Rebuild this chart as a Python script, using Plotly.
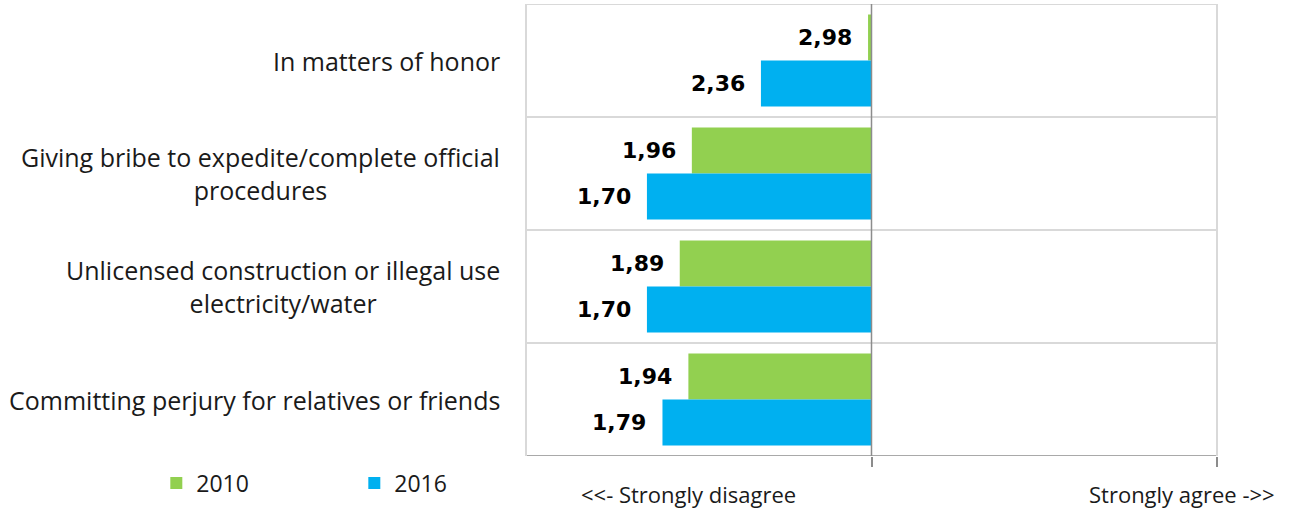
import plotly.graph_objects as go

# Survey items (top to bottom) and mean agreement scores on a 1-5 scale
categories = [
    "In matters of honor",
    "Giving bribe to expedite/complete official<br>procedures",
    "Unlicensed construction or illegal use<br>electricity/water",
    "Committing perjury for relatives or friends",
]
values_2010 = [2.98, 1.96, 1.89, 1.94]
values_2016 = [2.36, 1.70, 1.70, 1.79]
series_names = ["2010", "2016"]
series_colors = ["#92d050", "#00b0f0"]

# scale midpoint: bars run from the neutral point towards the score
midpoint = 3
scale_min, scale_max = 1, 5

FONT = "Open Sans"
BAR_GAP = 0.186
bar_w = (1 - BAR_GAP) / 2
idx = list(range(len(categories)))

fig = go.Figure()
for name, vals, col in zip(series_names, [values_2010, values_2016], series_colors):
    fig.add_trace(go.Bar(
        y=idx,
        x=[v - midpoint for v in vals],
        base=midpoint,
        orientation="h",
        name=name,
        marker=dict(color=col, line=dict(width=0)),
        hoverinfo="skip",
    ))

annotations = []
# value labels, just left of each bar's end
for k, vals in enumerate([values_2010, values_2016]):
    offset = (k - 0.5) * bar_w
    for i, v in enumerate(vals):
        annotations.append(dict(
            x=v, y=i + offset, xref="x", yref="y",
            text=f"{v:.2f}".replace(".", ","),
            showarrow=False, xanchor="right", yanchor="middle", xshift=-14,
            font=dict(family="DejaVu Sans", size=22, color="#000000", weight="bold"),
        ))

# category labels, right-aligned block with centred lines
for i, c in enumerate(categories):
    annotations.append(dict(
        x=0, y=i, xref="paper", yref="y", text=c, showarrow=False,
        xanchor="right", yanchor="middle", align="center", xshift=-24,
        font=dict(family=FONT, size=25, color="#1a1a1a"),
    ))

# scale end labels
annotations.append(dict(x=(1 + 3) / 2 - 0.06, y=-0.085, xref="x", yref="paper",
                        text="<<- Strongly disagree", showarrow=False,
                        xanchor="center", yanchor="middle",
                        font=dict(family=FONT, size=22, color="#1a1a1a")))
annotations.append(dict(x=scale_max - 0.205, y=-0.085, xref="x", yref="paper",
                        text="Strongly agree ->>", showarrow=False,
                        xanchor="center", yanchor="middle",
                        font=dict(family=FONT, size=22, color="#1a1a1a")))

shapes = []
grid_col = "#d9d9d9"
# horizontal separators between categories (including top and bottom)
for b in [-0.5 + j for j in range(len(categories) + 1)]:
    shapes.append(dict(type="line", xref="paper", yref="y", x0=0, x1=1, y0=b, y1=b,
                       line=dict(color=grid_col if b != len(categories) - 0.5 else "#8c8c8c",
                                 width=2 if b != len(categories) - 0.5 else 1.5)))
# side borders
for xp in [0, 1]:
    shapes.append(dict(type="line", xref="paper", yref="paper", x0=xp, x1=xp, y0=0, y1=1,
                       line=dict(color=grid_col, width=2)))
# neutral axis line
shapes.append(dict(type="line", xref="x", yref="paper", x0=midpoint, x1=midpoint, y0=0, y1=1,
                   line=dict(color="#8c8c8c", width=1.5)))

fig.update_layout(
    width=1290, height=510,
    margin=dict(l=526, r=73, t=4, b=54),
    paper_bgcolor="white", plot_bgcolor="white",
    barmode="group", bargap=BAR_GAP, bargroupgap=0,
    xaxis=dict(range=[scale_min, scale_max], showgrid=False, zeroline=False,
               showticklabels=False, ticks="outside", tickvals=[midpoint, scale_max],
               ticklen=10, tickcolor="#8c8c8c", tickwidth=1.5, showline=False),
    yaxis=dict(range=[len(categories) - 0.5, -0.5], showgrid=False, zeroline=False,
               showticklabels=False, ticks="", showline=False),
    showlegend=True,
    legend=dict(orientation="h", x=-0.535, xanchor="left", y=-0.06, yanchor="middle",
                font=dict(family=FONT, size=23, color="#1a1a1a"),
                itemwidth=30, entrywidth=153, entrywidthmode="pixels",
                traceorder="normal", bgcolor="rgba(0,0,0,0)"),
    annotations=annotations,
    shapes=shapes,
)

fig.write_html("out.html")
